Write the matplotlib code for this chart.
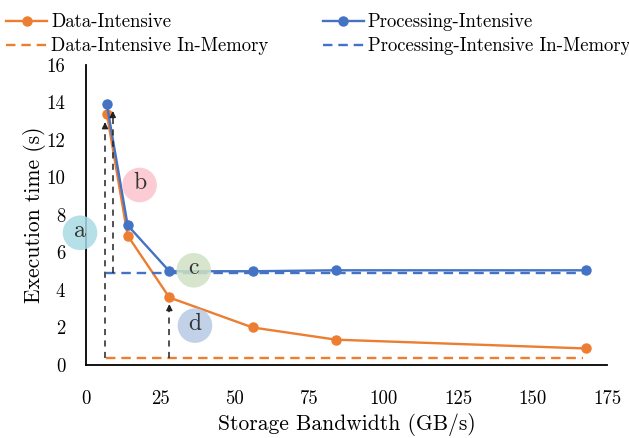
import numpy as np
import matplotlib.pyplot as plt

plt.rcParams['font.family'] = ['cmr10', 'DejaVu Serif']
plt.rcParams['mathtext.fontset'] = 'cm'
plt.rcParams['axes.unicode_minus'] = False

# storage bandwidth (GB/s)
bandwidth = [7, 14, 28, 56, 84, 168]
data_intensive = [13.4, 6.9, 3.6, 2.0, 1.35, 0.88]
processing_intensive = [13.9, 7.45, 5.0, 5.0, 5.05, 5.05]
data_in_memory = 0.35
processing_in_memory = 4.9
in_memory_range = [6.8, 167]

x_ticks = [0, 25, 50, 75, 100, 125, 150, 175]
y_ticks = [0, 2, 4, 6, 8, 10, 12, 14, 16]

# dashed arrows: (x, y start, y end)
arrows = [(6.4, 0.35, 13.1), (9.0, 4.9, 13.7), (28.0, 0.35, 3.4)]

# labelled circles
circle_labels = ['a', 'b', 'c', 'd']
circle_x = [-2.0, 18.0, 36.2, 36.6]
circle_y = [7.05, 9.6, 5.05, 2.1]
circle_colors = ['#a8dbe4', '#fbc3cd', '#cfe1c4', '#b7c9e3']

orange = '#ED7D31'
blue = '#4472C4'

fig = plt.figure(figsize=(6.29, 4.38), dpi=100)
ax = fig.add_axes([0.1367, 0.1667, 0.8283, 0.6849])

ax.plot(bandwidth, data_intensive, color=orange, lw=1.7, marker='o', ms=6.5,
        label='Data-Intensive')
ax.plot(in_memory_range, [data_in_memory] * 2, color=orange, lw=1.7,
        ls=(0, (4, 2.5)), label='Data-Intensive In-Memory')
ax.plot(bandwidth, processing_intensive, color=blue, lw=1.7, marker='o', ms=6.5,
        label='Processing-Intensive')
ax.plot(in_memory_range, [processing_in_memory] * 2, color=blue, lw=1.7,
        ls=(0, (4, 2.5)), label='Processing-Intensive In-Memory')

for x, y0, y1 in arrows:
    ax.plot([x, x], [y0, y1 - 0.2], color='#222222', lw=1.1, ls=(0, (4, 3.5)))
    ax.annotate('', xy=(x, y1), xytext=(x, y1 - 0.5),
                arrowprops=dict(arrowstyle='-|>', color='#222222', lw=1.0,
                                mutation_scale=9))

ax.scatter(circle_x, circle_y, s=620, c=circle_colors, alpha=0.85,
           edgecolors='none', zorder=5, clip_on=False)
for lab, x, y in zip(circle_labels, circle_x, circle_y):
    ax.text(x, y + 0.1, lab, ha='center', va='center', fontsize=17,
            color='#333333', zorder=6)

ax.set_xlim(0, 175)
ax.set_ylim(0, 16)
ax.set_xticks(x_ticks)
ax.set_xticklabels([str(v) for v in x_ticks])
ax.set_yticks(y_ticks)
ax.set_yticklabels([str(v) for v in y_ticks])
ax.tick_params(length=0, labelsize=13.5)
ax.tick_params(axis='x', pad=18)
ax.tick_params(axis='y', pad=15)
for s in ['top', 'right']:
    ax.spines[s].set_visible(False)
for s in ['left', 'bottom']:
    ax.spines[s].set_linewidth(1.3)

ax.set_xlabel('Storage Bandwidth (GB/s)', fontsize=15.5, labelpad=4)
ax.set_ylabel('Execution time (s)', fontsize=15.5, labelpad=0)

fig.legend(loc='upper left', bbox_to_anchor=(-0.008, 0.995), ncol=2,
           frameon=False, fontsize=13.5, handlelength=2.2, handletextpad=0.2,
           columnspacing=2.9, labelspacing=0.32, borderaxespad=0.2)

plt.savefig('out.png', dpi=100)
